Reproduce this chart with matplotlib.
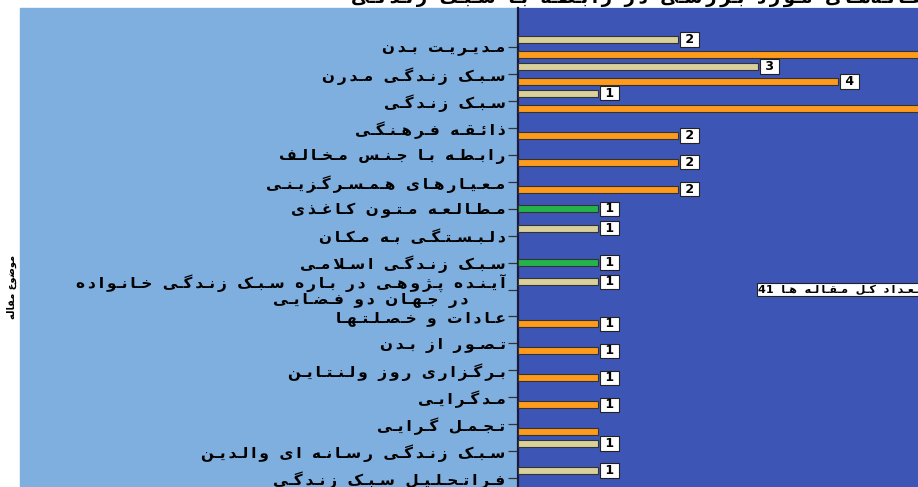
import re
import numpy as np
import matplotlib
matplotlib.use("Agg")
import matplotlib.pyplot as plt
from matplotlib.patches import Rectangle
from matplotlib.transforms import ScaledTranslation

plt.rcParams["font.family"] = ["DejaVu Sans"]

# ---- data -------------------------------------------------------------
categories = [
    "مدیریت بدن",
    "سبک زندگی مدرن",
    "سبک زندگی",
    "ذائقه فرهنگی",
    "رابطه با جنس مخالف",
    "معیارهای همسرگزینی",
    "مطالعه متون کاغذی",
    "دلبستگی به مکان",
    "سبک زندگی اسلامی",
    "آینده پژوهی در باره سبک زندگی خانواده\nدر جهان دو فضایی",
    "عادات و خصلتها",
    "تصور از بدن",
    "برگزاری روز ولنتاین",
    "مدگرایی",
    "تجمل گرایی",
    "سبک زندگی رسانه ای والدین",
    "فراتحلیل سبک زندگی",
]
tan_values = [2, 3, 1, 0, 0, 0, 0, 1, 0, 1, 0, 0, 0, 0, 0, 1, 1]
green_values = [0, 0, 0, 0, 0, 0, 1, 0, 1, 0, 0, 0, 0, 0, 0, 0, 0]
orange_values = [7, 4, 6, 2, 2, 2, 0, 0, 0, 0, 1, 1, 1, 1, 1, 0, 0]
orange_unlabelled = [14]
total_label = "تعداد کل مقاله ها"
total_articles = 41
title = "توزیع موضوعات مقاله‌های مورد بررسی در رابطه با سبک زندگی"
ylabel = "موضوع مقاله"

LIGHT_BG = "#7FAFDF"
PLOT_BG = "#3D56B6"
TAN = "#D9D09C"
GREEN = "#25B34B"
ORANGE = "#FF9B1C"


# ---- tiny persian shaper (matplotlib has no bidi / joining) -----------
_DUAL = {
    "ئ": 0xFE89, "ب": 0xFE8F, "ت": 0xFE95, "ث": 0xFE99, "ج": 0xFE9D,
    "ح": 0xFEA1, "خ": 0xFEA5, "س": 0xFEB1, "ش": 0xFEB5, "ص": 0xFEB9,
    "ض": 0xFEBD, "ط": 0xFEC1, "ظ": 0xFEC5, "ع": 0xFEC9, "غ": 0xFECD,
    "ف": 0xFED1, "ق": 0xFED5, "ك": 0xFED9, "ل": 0xFEDD, "م": 0xFEE1,
    "ن": 0xFEE5, "ه": 0xFEE9, "ي": 0xFEF1, "پ": 0xFB56, "چ": 0xFB7A,
    "ک": 0xFB8E, "گ": 0xFB92, "ی": 0xFBFC,
}
_RIGHT = {
    "آ": 0xFE81, "أ": 0xFE83, "ؤ": 0xFE85, "إ": 0xFE87, "ا": 0xFE8D,
    "ة": 0xFE93, "د": 0xFEA9, "ذ": 0xFEAB, "ر": 0xFEAD, "ز": 0xFEAF,
    "و": 0xFEED, "ى": 0xFEEF, "ژ": 0xFB8A,
}
_LAM_ALEF = {"ا": 0xFEFB, "آ": 0xFEF5}
_LETTERS = set(_DUAL) | set(_RIGHT)


def _shape_line(s, wide):
    # wide=True mimics the loose, letter-spaced rendering of the original
    out = []
    i = 0
    n = len(s)
    while i < n:
        c = s[i]
        prev = s[i - 1] if i > 0 else ""
        joins_prev = prev in _DUAL
        if c == "ل" and i + 1 < n and s[i + 1] in _LAM_ALEF:
            base = _LAM_ALEF[s[i + 1]]
            out.append(chr(base + (1 if joins_prev else 0)))
            i += 2
            if wide and i < n and s[i] in _LETTERS:
                out.append("\u2009")
            continue
        nxt = s[i + 1] if i + 1 < n else ""
        if c in _DUAL:
            joins_next = nxt in _LETTERS
            form = {(False, False): 0, (True, False): 1,
                    (False, True): 2, (True, True): 3}[(joins_prev, joins_next)]
            out.append(chr(_DUAL[c] + form))
            if wide and joins_next:
                out.append("\u0640")
        elif c in _RIGHT:
            out.append(chr(_RIGHT[c] + (1 if joins_prev else 0)))
            if wide and nxt in _LETTERS:
                out.append("\u2009")
        elif c == "\u200c":
            pass
        elif c == " " and wide:
            out.append("  ")
        else:
            out.append(c)
        i += 1
    vis = "".join(out)[::-1]
    return re.sub(r"[0-9]+", lambda m: m.group(0)[::-1], vis)


def fa(s, wide=True):
    return "\n".join(_shape_line(line, wide) for line in s.split("\n"))


# ---- figure -----------------------------------------------------------
W, H = 918, 487
fig = plt.figure(figsize=(W / 100, H / 100), dpi=100, facecolor="white")
top_frac = (H - 8) / H
fig.patches.append(Rectangle((20 / W, 0), 1 - 20 / W, top_frac,
                             transform=fig.transFigure, color=LIGHT_BG, zorder=-5))

ax = fig.add_axes([518 / W, 0, 1 - 518 / W, top_frac])
ax.set_zorder(2)
ax.set_facecolor(PLOT_BG)
XMAX = 5

y = np.arange(len(categories))
bar_h = 0.26
series = [
    (tan_values, -0.28, TAN),
    (green_values, 0.0, GREEN),
    (orange_values, 0.28, ORANGE),
]
for vals, off, col in series:
    vals = np.asarray(vals, dtype=float)
    keep = vals > 0
    ax.barh(y[keep] + off, vals[keep], height=bar_h, color=col,
            edgecolor="#333333", linewidth=0.8, zorder=3)
    for i in np.where(keep)[0]:
        if (col == ORANGE and i in orange_unlabelled) or vals[i] >= XMAX:
            continue
        ax.annotate(f" {vals[i]:g} ", xy=(vals[i], y[i] + off),
                    xytext=(2, 0), textcoords="offset points",
                    ha="left", va="center", fontsize=9, fontweight="bold",
                    color="black", zorder=5,
                    bbox=dict(boxstyle="square,pad=0.05", fc="white",
                              ec="#222222", lw=0.8))

ax.text(3.0, 9, f"{total_articles}  " + fa(total_label), ha="left", va="center",
        fontsize=8, fontweight="bold", color="black", zorder=5,
        bbox=dict(boxstyle="square,pad=0.12", fc="white", ec="#222222", lw=0.8))

ax.set_xlim(0, XMAX)
ax.set_ylim(16.33, -1.448)
ax.set_xticks([])
ax.set_yticks(y)
labels = [fa(c) for c in categories]
first, second = labels[9].split("\n")
labels[9] = first + "\n" + second + "       "
ax.set_yticklabels(labels, fontsize=11, fontweight="bold", color="black",
                   multialignment="right", linespacing=0.95)
shift = ScaledTranslation(0, -2 / 72, fig.dpi_scale_trans)
for lab in ax.get_yticklabels():
    lab.set_transform(lab.get_transform() + shift)
ax.tick_params(axis="y", direction="out", length=7, width=0.9,
               color="#333333", pad=2)
for side in ("top", "right", "bottom"):
    ax.spines[side].set_visible(False)
ax.spines["left"].set_color("#1a1a3a")
ax.spines["left"].set_linewidth(1.6)

fig.text(351 / W, 1 + 3 / H, fa(title), ha="left", va="center",
         fontsize=13, fontweight="bold", color="black")
fig.text(12 / W, 0.41, fa(ylabel, wide=False), rotation=90, ha="center",
         va="center", fontsize=7, fontweight="bold", color="black")

fig.savefig("out.png", dpi=100, facecolor="white")
